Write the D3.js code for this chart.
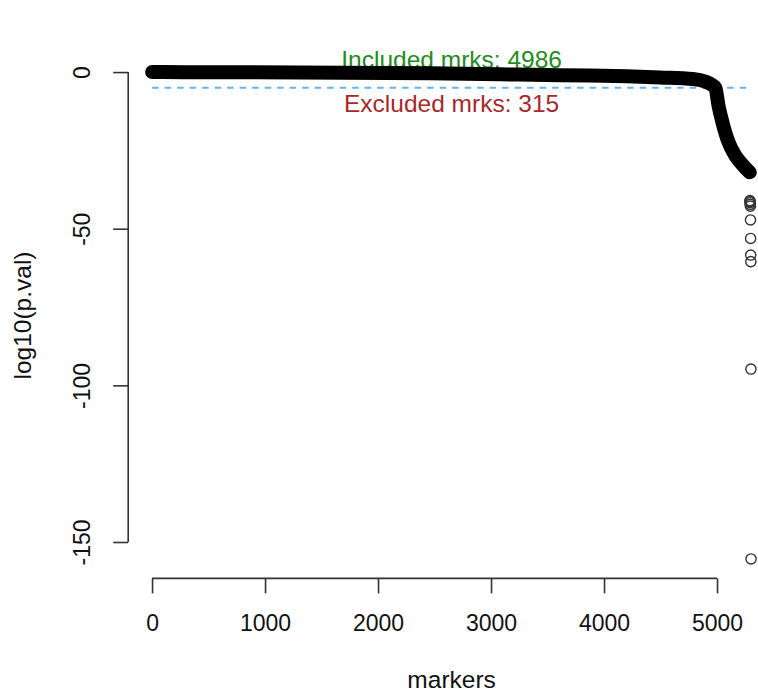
<!DOCTYPE html>
<html>
<head>
<meta charset="utf-8">
<script src="https://cdn.jsdelivr.net/npm/d3@7"></script>
<style>
  body { margin: 0; background: #fff; }
  svg text { font-family: "Liberation Sans", Arial, sans-serif; }
</style>
</head>
<body>
<div id="chart"></div>
<script>
// sorted log10 p-values (dense part of the curve)
var markerIdx = [1, 300, 1310, 2460, 3080, 3611, 3876, 4200, 4496, 4788, 4894, 4956, 4986, 5012, 5047, 5100, 5159, 5204, 5250, 5290];
var logP      = [0.0, -0.03, -0.1, -0.4, -0.7, -1.0, -1.1, -1.35, -1.7, -2.2, -3.0, -4.1, -5.1, -10.5, -15.9, -22.2, -26.5, -28.7, -30.6, -32.0];
// the last few markers, drawn as single circles
var outIdx = [5291, 5292, 5293, 5294, 5295, 5296, 5297, 5298, 5299, 5300, 5301];
var outP   = [-41.0, -41.3, -41.7, -42.2, -42.8, -47.2, -53.1, -58.4, -60.5, -94.8, -155.4];
var nMarkers = 5301;
var threshold = -5.03;
var nIncluded = 4986, nExcluded = 315;
var xTicks = [0, 1000, 2000, 3000, 4000, 5000];
var yTicks = [0, -50, -100, -150];

var W = 758, H = 694,
    plot = {left: 128.2, top: 52.6, width: 646.8, height: 525.8},
    tickFont = 23, labFont = 24.5;

var svg = d3.select("#chart").append("svg")
  .attr("width", W)
  .attr("height", H);

// R style 4% padding of the data range
var xr = [1, nMarkers], xpad = 0.04 * (xr[1] - xr[0]);
var x = d3.scaleLinear()
  .domain([xr[0] - xpad, xr[1] + xpad])
  .range([plot.left, plot.left + plot.width]);

var yr = d3.extent(logP.concat(outP)), ypad = 0.04 * (yr[1] - yr[0]);
var y = d3.scaleLinear()
  .domain([yr[0] - ypad, yr[1] + ypad])
  .range([plot.top + plot.height, plot.top]);

var bottom = plot.top + plot.height;

// x axis
var xAxis = svg.append("g")
  .attr("transform", "translate(0," + bottom + ")")
  .call(d3.axisBottom(x).tickValues(xTicks).tickSize(15).tickPadding(21).tickFormat(d3.format("d")));
xAxis.select(".domain").remove();
xAxis.append("line")
  .attr("x1", x(xTicks[0])).attr("x2", x(xTicks[xTicks.length - 1]))
  .attr("stroke", "#333").attr("stroke-width", 1.6);
xAxis.selectAll(".tick line").attr("stroke", "#333").attr("stroke-width", 1.6);
xAxis.selectAll("text")
  .attr("fill", "#111")
  .style("font-size", tickFont + "px")
  .style("font-family", '"Liberation Sans", Arial, sans-serif');

// y axis
var yAxis = svg.append("g")
  .attr("transform", "translate(" + plot.left + ",0)")
  .call(d3.axisLeft(y).tickValues(yTicks).tickSize(15).tickFormat(d3.format("d")));
yAxis.select(".domain").remove();
yAxis.append("line")
  .attr("y1", y(yTicks[0])).attr("y2", y(yTicks[yTicks.length - 1]))
  .attr("stroke", "#333").attr("stroke-width", 1.6);
yAxis.selectAll(".tick line").attr("stroke", "#333").attr("stroke-width", 1.6);
yAxis.selectAll("text")
  .attr("x", null).attr("dy", null)
  .attr("text-anchor", "middle")
  .attr("transform", "translate(-38,0) rotate(-90)")
  .attr("fill", "#111")
  .text(function(d) { return d3.format("d")(d).replace("\u2212", "-"); })
  .style("font-size", tickFont + "px")
  .style("font-family", '"Liberation Sans", Arial, sans-serif');

// axis titles
svg.append("text")
  .attr("x", plot.left + plot.width / 2)
  .attr("y", 688)
  .attr("text-anchor", "middle")
  .style("font-size", labFont + "px")
  .attr("fill", "#111")
  .text("markers");

svg.append("text")
  .attr("transform", "translate(31," + (plot.top + plot.height / 2) + ") rotate(-90)")
  .attr("text-anchor", "middle")
  .style("font-size", labFont + "px")
  .attr("fill", "#111")
  .text("log10(p.val)");

// annotations (drawn under the points)
var midX = x((1 + nMarkers) / 2);
svg.append("text")
  .attr("x", midX).attr("y", 68)
  .attr("text-anchor", "middle")
  .style("font-size", labFont + "px")
  .attr("fill", "#228B22")
  .text("Included mrks: " + nIncluded);

svg.append("text")
  .attr("x", midX).attr("y", 111.5)
  .attr("text-anchor", "middle")
  .style("font-size", labFont + "px")
  .attr("fill", "#A52A2A")
  .text("Excluded mrks: " + nExcluded);

// threshold line
svg.append("line")
  .attr("x1", x(1)).attr("x2", x(nMarkers))
  .attr("y1", y(threshold)).attr("y2", y(threshold))
  .attr("stroke", "#64B4F0")
  .attr("stroke-width", 2)
  .attr("stroke-dasharray", "6.5,6");

// dense run of circles -> thick band
var line = d3.line()
  .x(function(d, i) { return x(markerIdx[i]); })
  .y(function(d) { return y(d); })
  .curve(d3.curveMonotoneX);

svg.append("path")
  .datum(logP)
  .attr("d", line)
  .attr("fill", "none")
  .attr("stroke", "#000")
  .attr("stroke-width", 14)
  .attr("stroke-linecap", "round")
  .attr("stroke-linejoin", "round");

// single circles
svg.selectAll("circle.out")
  .data(outP)
  .enter().append("circle")
    .attr("class", "out")
    .attr("cx", function(d, i) { return x(outIdx[i]); })
    .attr("cy", function(d) { return y(d); })
    .attr("r", 5.1)
    .attr("fill", "none")
    .attr("stroke", "#333")
    .attr("stroke-width", 1.4);
</script>
</body>
</html>
